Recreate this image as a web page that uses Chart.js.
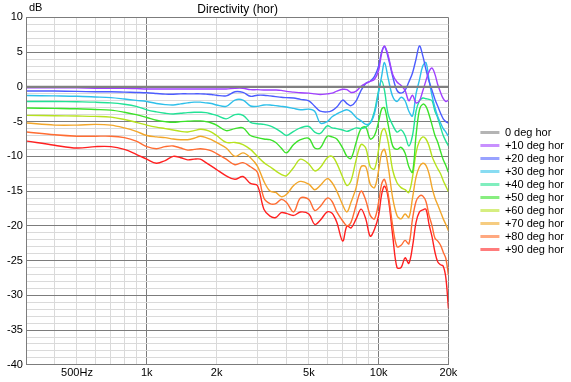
<!DOCTYPE html>
<html>
<head>
<meta charset="utf-8">
<script src="https://cdn.jsdelivr.net/npm/chart.js@4.4.1/dist/chart.umd.min.js"></script>
<style>
  html, body { margin: 0; padding: 0; background: #fff; }
  canvas { display: block; }
</style>
</head>
<body>
<canvas id="chart" width="571" height="382"></canvas>
<script>
// frequency points (Hz) the curves were read at
const freqs = [304, 400, 500, 600, 700, 800, 900, 1000,
  1100, 1200, 1300, 1400, 1500, 1600, 1700, 1800, 1900, 2000,
  2200, 2400, 2600, 2800, 3000, 3200, 3400, 3600, 3800, 4000,
  4300, 4600, 5000, 5300, 5600,
  6000, 6300, 6600, 7000, 7300, 7600, 8000, 8400, 8800, 9200, 9600, 10000,
  10300, 10600, 11000,
  11500, 12000, 12500, 13000, 13500, 14000, 14500, 15000, 15500, 16000,
  16500, 17000, 17500, 18000, 18500, 19000, 19500, 20000];

const labels = ['0 deg hor', '+10 deg hor', '+20 deg hor', '+30 deg hor', '+40 deg hor',
  '+50 deg hor', '+60 deg hor', '+70 deg hor', '+80 deg hor', '+90 deg hor'];

const deg0 = freqs.map(() => 0); // reference axis, normalised flat

const deg10 = [-0.15, -0.15, -0.15, -0.2, -0.2, -0.2, -0.25,
  -0.3, -0.3, -0.3, -0.3, -0.3, -0.3, -0.3, -0.3, -0.3, -0.3, -0.3,
  -0.3, -0.2, -0.2, -0.4, -0.4, -0.45, -0.45, -0.45, -0.5, -0.65,
  -0.75, -0.85, -0.9, -1.0, -1.1, -1.0,
  -0.9, -0.6, -0.35, -0.4, -0.8, -0.6, 0.1, 0.5, 0.8, 1.1, 2.4,
  4.8, 5.9, 4.5, 1.8, 0.7, 0.2, -0.5, -2.0, -1.2, -2.3, -2.0,
  -0.6, 0.9, 2.2, 2.7, 1.8, 0.3, -0.8, -1.7, -2.1, -1.9];

const deg20 = [-0.6, -0.6, -0.65, -0.7, -0.7, -0.75, -0.8,
  -0.85, -0.95, -1.05, -1.05, -1.0, -1.0, -1.0, -1.0, -1.05, -1.1, -1.2,
  -1.3, -0.7, -0.8, -1.35, -1.2, -1.2, -1.3, -1.4, -1.5, -1.55,
  -1.6, -1.8, -2.0, -2.8, -3.5, -3.6,
  -3.4, -2.9, -1.9, -2.4, -2.7, -2.0, -0.5, 0.5, 0.8, 1.5, 3.0,
  5.0, 5.8, 4.2, 1.5, -0.5, -0.9, -0.5, 0.7, 2.0, 4.0, 5.9,
  4.5, 2.5, 0.8, -0.5, -1.8, -2.8, -3.8, -4.6, -5.0, -5.2];

const deg30 = [-1.25, -1.3, -1.35, -1.45, -1.55, -1.75, -1.95,
  -2.1, -2.4, -2.55, -2.6, -2.45, -2.3, -2.2, -2.2, -2.3, -2.4, -2.6,
  -2.8, -1.9, -1.9, -2.75, -2.8, -2.6, -2.6, -2.7, -2.8, -2.9,
  -3.1, -3.3, -3.2, -3.5, -5.2, -5.0,
  -4.3, -3.9, -3.5, -3.3, -3.6, -4.4, -4.9, -5.4, -5.2, -3.8, -0.8,
  1.5, 3.5, 1.2, -1.4, -2.1, -1.5, -2.0, -3.5, -4.2, -1.0, 1.0,
  3.0, 3.5, 1.0, -1.3, -3.0, -4.3, -5.2, -6.0, -6.5, -7.1];

const deg40 = [-2.1, -2.1, -2.15, -2.2, -2.3, -2.5, -2.8,
  -3.3, -3.6, -3.8, -3.9, -3.8, -3.7, -3.65, -3.65, -3.7, -3.9, -4.1,
  -4.6, -4.0, -4.1, -5.1, -5.3, -5.4, -5.6, -6.0, -6.5, -7.0,
  -6.4, -5.9, -5.7, -6.5, -6.7, -5.6,
  -5.9, -6.0, -6.2, -6.4, -6.2, -5.9, -6.0, -5.8, -5.2, -3.5, -0.5,
  0.9, -0.5, -4.0, -5.5, -6.5, -6.2, -7.0, -8.5, -7.0, -3.5, -2.0,
  -1.6, -1.7, -1.8, -2.0, -3.5, -4.5, -5.8, -7.0, -7.8, -8.5];

const deg50 = [-3.05, -3.1, -3.15, -3.25, -3.35, -3.65, -4.0,
  -4.4, -4.8, -5.0, -5.1, -5.0, -4.95, -4.9, -4.9, -5.0, -5.2, -5.5,
  -6.3, -6.0, -5.9, -7.0, -7.3, -7.5, -7.6, -8.0, -8.8, -9.5,
  -8.3, -7.6, -7.4, -8.8, -8.8, -7.1,
  -7.2, -7.5, -8.8, -10.0, -10.3, -8.0, -6.0, -5.8, -7.5, -7.0, -5.0,
  -3.2, -3.0, -5.5, -8.5, -9.0, -8.7, -9.5, -11.5, -12.3, -7.0, -3.3,
  -2.5, -2.8, -4.0, -5.5, -7.0, -8.0, -9.3, -10.5, -11.3, -12.3];

const deg60 = [-4.1, -4.15, -4.2, -4.25, -4.35, -4.7, -5.1,
  -5.5, -5.8, -6.0, -6.2, -6.4, -6.5, -6.3, -6.1, -6.2, -6.5, -7.0,
  -8.0, -8.0, -8.3, -9.0, -10.0, -10.9, -11.5, -12.1, -12.6, -12.8,
  -11.6, -10.4, -11.1, -12.1, -11.6, -10.2,
  -10.0, -11.0, -13.0, -14.2, -13.5, -10.5, -8.3, -8.8, -11.5, -11.8, -9.0,
  -6.5, -6.0, -8.0, -12.0, -13.8, -14.5, -14.8, -15.2, -13.0, -9.5, -7.8,
  -7.2, -7.5, -8.5, -10.0, -11.0, -11.8, -12.5, -13.5, -14.3, -15.1];

const deg70 = [-5.2, -5.5, -5.5, -5.4, -5.5, -5.9, -6.4,
  -7.0, -7.2, -7.3, -7.5, -7.6, -7.6, -7.4, -7.1, -7.3, -7.6, -8.0,
  -8.8, -10.0, -9.5, -10.2, -11.4, -13.6, -15.0, -15.2, -15.8, -15.5,
  -14.2, -13.6, -14.0, -14.8, -14.2, -13.2,
  -13.8, -15.0, -17.0, -18.0, -16.6, -14.5, -11.5, -11.5, -14.0, -14.5, -12.0,
  -9.5, -9.0, -11.5, -16.0, -18.5, -19.0, -18.3, -18.8, -16.0, -13.0, -11.5,
  -11.0, -11.3, -12.5, -14.5, -16.0, -17.0, -18.0, -19.0, -19.8, -20.7];

const deg80 = [-6.5, -6.9, -7.1, -7.1, -7.1, -7.3, -7.8,
  -8.6, -8.9, -8.6, -8.5, -8.8, -9.1, -9.0, -8.9, -9.0, -9.2, -9.6,
  -10.4, -11.2, -10.9, -11.5, -12.3, -16.0, -16.8, -16.8, -16.2, -16.6,
  -18.0, -16.0, -16.2, -17.8, -17.2, -16.0,
  -16.5, -18.0, -19.3, -20.0, -19.5, -17.0, -15.0, -16.3, -18.5, -19.0, -16.6,
  -14.0, -13.3, -15.5, -20.0, -23.0, -22.8, -22.1, -22.6, -19.0, -16.5, -15.7,
  -15.7, -16.5, -18.5, -20.0, -21.8, -22.2, -22.8, -23.8, -24.7, -27.1];

const deg90 = [-7.8, -8.4, -8.8, -8.6, -8.6, -9.0, -9.7,
  -10.4, -11.0, -10.6, -10.0, -10.2, -10.5, -10.4, -10.4, -10.9, -11.4, -11.9,
  -12.8, -13.3, -12.9, -13.9, -14.2, -17.6, -18.6, -18.8, -18.1, -18.2,
  -18.5, -18.0, -18.3, -19.8, -19.2, -18.0,
  -18.2, -19.5, -22.2, -20.0, -20.3, -19.0, -17.6, -19.0, -21.5, -20.5, -18.5,
  -15.5, -14.3, -16.0, -21.4, -26.0, -26.0, -24.6, -25.4, -23.0, -19.5, -18.0,
  -17.7, -17.6, -19.8, -21.6, -23.8, -25.2, -25.6, -25.8, -27.5, -31.9];

const series = [deg0, deg10, deg20, deg30, deg40, deg50, deg60, deg70, deg80, deg90];

const lineColors = ['#808080', '#a040ff', '#4c5cff', '#2ec0ea', '#22e296',
  '#3ce22a', '#b6e21e', '#f2a62a', '#ff6c32', '#ff2020'];
const legendColors = ['#b4b4b4', '#c890ff', '#98a2ff', '#88dcf2', '#80eebe',
  '#88ee80', '#d6ee80', '#f6cc80', '#ffa880', '#ff7c7c'];

// axis
const xMin = 304, xMax = 20000;
const yMin = -40, yMax = 10;
const xGrid = [400, 500, 600, 700, 800, 900, 1000, 2000, 3000, 4000, 5000,
  6000, 7000, 8000, 9000, 10000, 20000];
const xMajor = [1000, 10000, 20000];
const xTickValues = [500, 1000, 2000, 5000, 10000, 20000];
const xTickText = ['500Hz', '1k', '2k', '5k', '10k', '20k'];
const yUnit = 'dB';
const title = 'Directivity (hor)';

const majorGrid = '#7c7c7c';
const minorGrid = '#dadada';

Chart.defaults.font.family = '"Liberation Sans", Arial, sans-serif';
Chart.defaults.font.size = 11;
Chart.defaults.color = '#000';

const unitLabel = {
  id: 'unitLabel',
  afterDraw(chart) {
    const { ctx, chartArea } = chart;
    ctx.save();
    ctx.font = '11px "Liberation Sans", Arial, sans-serif';
    ctx.fillStyle = '#000';
    ctx.textBaseline = 'middle';
    ctx.fillText(yUnit, chartArea.left + 2, chartArea.top - 9);
    ctx.restore();
  }
};

new Chart(document.getElementById('chart'), {
  type: 'line',
  data: {
    datasets: series.map((vals, i) => ({
      label: labels[i],
      data: freqs.map((f, j) => ({ x: f, y: vals[j] })),
      borderColor: lineColors[i],
      backgroundColor: lineColors[i],
      borderWidth: i === 0 ? 2.4 : 1.4,
      pointRadius: 0,
      tension: 0.35,
      fill: false
    }))
  },
  options: {
    responsive: false,
    animation: false,
    devicePixelRatio: 1,
    layout: { padding: { left: 3, right: -2.5, top: 0, bottom: 0 } },
    plugins: {
      tooltip: { enabled: false },
      title: {
        display: true,
        text: title,
        fullSize: false,
        font: { size: 12, weight: 'normal' },
        color: '#000',
        padding: { top: 2, bottom: 1 }
      },
      legend: {
        position: 'right',
        labels: {
          boxWidth: 19,
          boxHeight: 3,
          padding: 2,
          font: { size: 11 },
          color: '#000',
          generateLabels: (chart) => chart.data.datasets.map((ds, i) => ({
            text: ds.label,
            fillStyle: legendColors[i],
            strokeStyle: legendColors[i],
            lineWidth: 0,
            hidden: false,
            datasetIndex: i
          }))
        }
      }
    },
    scales: {
      x: {
        type: 'logarithmic',
        min: xMin,
        max: xMax,
        afterBuildTicks: (scale) => {
          scale.ticks = xGrid.map(v => ({ value: v }));
        },
        ticks: {
          autoSkip: false,
          maxRotation: 0,
          padding: 2,
          callback: (v) => {
            const k = xTickValues.indexOf(v);
            return k >= 0 ? xTickText[k] : '';
          }
        },
        grid: {
          drawTicks: false,
          color: (ctx) => xMajor.includes(ctx.tick.value) ? majorGrid : minorGrid
        },
        border: { color: majorGrid }
      },
      y: {
        min: yMin,
        max: yMax,
        ticks: {
          stepSize: 1,
          autoSkip: false,
          padding: 4,
          callback: (v) => v % 5 === 0 ? String(v) : ''
        },
        grid: {
          drawTicks: false,
          color: (ctx) => ctx.tick.value % 5 === 0 ? majorGrid : minorGrid
        },
        border: { color: majorGrid }
      },
      gap: {
        position: 'right',
        display: true,
        grid: { display: false },
        border: { display: false },
        ticks: { display: false },
        afterFit: (scale) => { scale.width = 30; }
      }
    }
  },
  plugins: [unitLabel]
});
</script>
</body>
</html>
